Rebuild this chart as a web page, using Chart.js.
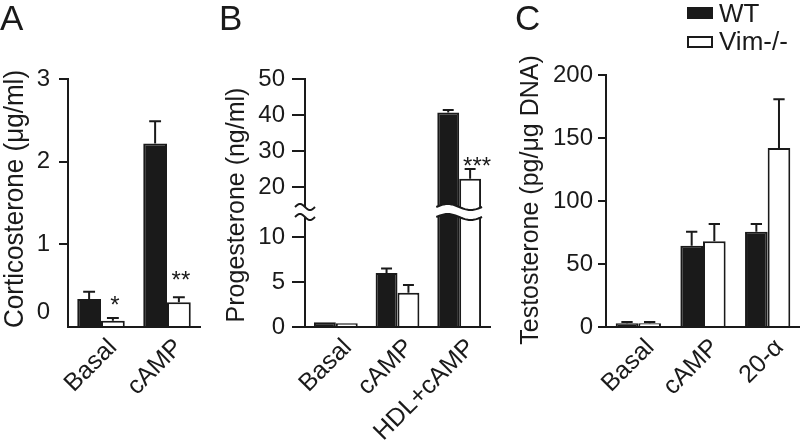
<!DOCTYPE html>
<html>
<head>
<meta charset="utf-8">
<script src="https://cdn.jsdelivr.net/npm/chart.js@4.4.1/dist/chart.umd.min.js"></script>
<style>
  body { margin: 0; background: #fff; width: 800px; height: 444px; overflow: hidden; position: relative;
         font-family: "Liberation Sans", Arial, sans-serif; color: #1a1a1a; }
  canvas { position: absolute; top: 0; }
  .letter { position: absolute; top: 0; font-size: 35px; line-height: 1; }
  .box { position: absolute; left: 687px; width: 26px; height: 12px; box-sizing: border-box; border: 2px solid #1a1a1a; }
  .key { position: absolute; left: 719px; font-size: 26px; line-height: 1; }
</style>
</head>
<body>
<canvas id="chartA" width="210" height="444" style="left:0px"></canvas>
<canvas id="chartBtop" width="280" height="444" style="left:220px"></canvas>
<canvas id="chartBbot" width="280" height="444" style="left:220px"></canvas>
<canvas id="chartC" width="285" height="444" style="left:515px"></canvas>

<div class="letter" style="left:0px">A</div>
<div class="letter" style="left:219px">B</div>
<div class="letter" style="left:515px">C</div>

<div class="box" style="top:7px; background:#1a1a1a"></div>
<div class="key" style="top:0px">WT</div>
<div class="box" style="top:36px; background:#fff"></div>
<div class="key" style="top:28px">Vim-/-</div>

<script>
// ---- data ----
const catsA = ['Basal', 'cAMP'];
const wtA = [0.34, 2.22];
const wtErrA = [0.085, 0.27];
const vimA = [0.075, 0.30];
const vimErrA = [0.035, 0.06];
const starsA = ['*', '**'];
const ticksA = [0, 1, 2, 3];

const catsB = ['Basal', 'cAMP', 'HDL+cAMP'];
const wtB = [0.52, 6.0, 40.7];
const wtErrB = [0, 0.5, 0.7];
const vimB = [0.41, 3.8, 22.3];
const vimErrB = [0, 0.87, 2.7];
const starsB = ['', '', '***'];
const ticksBtop = [20, 30, 40, 50];
const ticksBbot = [0, 5, 10];

const catsC = ['Basal', 'cAMP', '20-α'];
const wtC = [3, 64.5, 75.5];
const wtErrC = [1, 11, 6.3];
const vimC = [3, 68, 142];
const vimErrC = [1, 13.7, 38.7];
const ticksC = [0, 50, 100, 150, 200];

const INK = '#1a1a1a';
const FONT = '"Liberation Sans", Arial, sans-serif';
Chart.defaults.font.family = FONT;
Chart.defaults.color = INK;

// error whiskers (upper only) + significance stars
const errBars = {
  id: 'errBars',
  afterDatasetsDraw(chart, args, opts) {
    const {ctx, chartArea: a} = chart;
    const y = chart.scales.y;
    ctx.save();
    ctx.beginPath();
    ctx.rect(a.left, a.top, a.right - a.left, a.bottom - a.top);
    ctx.clip();
    ctx.strokeStyle = INK;
    ctx.lineWidth = 2;
    chart.data.datasets.forEach((ds, di) => {
      chart.getDatasetMeta(di).data.forEach((bar, i) => {
        const e = ds.err[i];
        if (!e) return;
        const top = y.getPixelForValue(ds.data[i] + e);
        const half = bar.width / 4;
        ctx.beginPath();
        ctx.moveTo(bar.x, bar.y);
        ctx.lineTo(bar.x, top);
        ctx.moveTo(bar.x - half, top);
        ctx.lineTo(bar.x + half, top);
        ctx.stroke();
      });
    });
    ctx.restore();

    if (!opts.stars) return;
    const ds = chart.data.datasets[1];
    ctx.save();
    ctx.font = '24px ' + FONT;
    ctx.fillStyle = INK;
    ctx.textAlign = 'center';
    ctx.textBaseline = 'alphabetic';
    chart.getDatasetMeta(1).data.forEach((bar, i) => {
      if (!opts.stars[i]) return;
      const top = y.getPixelForValue(ds.data[i] + ds.err[i]);
      if (top < a.top || top > a.bottom) return;
      ctx.fillText(opts.stars[i], bar.x + opts.dx, top + opts.dy[i]);
    });
    ctx.restore();
  }
};

// rotated y title
const yTitle = {
  id: 'yTitle',
  afterDraw(chart, args, o) {
    if (!o.text) return;
    const ctx = chart.ctx;
    ctx.save();
    ctx.translate(o.x, o.y);
    ctx.rotate(-Math.PI / 2);
    ctx.scale(o.squeeze || 1, 1);
    ctx.font = o.size + 'px ' + FONT;
    ctx.fillStyle = INK;
    ctx.textAlign = 'center';
    ctx.textBaseline = 'alphabetic';
    ctx.fillText(o.text, 0, 0);
    ctx.restore();
  }
};

// the "0" label of panel A sits a bit above its tick
const zeroLabel = {
  id: 'zeroLabel',
  afterDraw(chart, args, o) {
    const ctx = chart.ctx, y = chart.scales.y;
    ctx.save();
    ctx.font = '24px ' + FONT;
    ctx.fillStyle = INK;
    ctx.textAlign = 'right';
    ctx.textBaseline = 'middle';
    ctx.fillText('0', y.right - o.off, y.getPixelForValue(0) + o.dy);
    ctx.restore();
  }
};

// broken axis marks for panel B (drawn on the lower chart, at its top edge)
const axisBreak = {
  id: 'axisBreak',
  afterDraw(chart, args, o) {
    const {ctx, chartArea: a} = chart;
    const seam = a.top, g = o.gap / 2, amp = o.amp;
    const yUp = (x0, x1, x) => seam - g - amp * Math.sin(2 * Math.PI * (x - x0) / (x1 - x0));
    const yLo = (x0, x1, x) => seam + g - amp * Math.sin(2 * Math.PI * (x - x0) / (x1 - x0));
    const band = (x0, x1) => {
      const n = 24;
      ctx.beginPath();
      for (let k = 0; k <= n; k++) { const x = x0 + (x1 - x0) * k / n; ctx.lineTo(x, yUp(x0, x1, x)); }
      for (let k = n; k >= 0; k--) { const x = x0 + (x1 - x0) * k / n; ctx.lineTo(x, yLo(x0, x1, x)); }
      ctx.closePath();
      ctx.fillStyle = '#fff';
      ctx.fill();
      ctx.strokeStyle = INK;
      ctx.lineWidth = 2;
      [yUp, yLo].forEach(f => {
        ctx.beginPath();
        for (let k = 0; k <= n; k++) { const x = x0 + (x1 - x0) * k / n; ctx.lineTo(x, f(x0, x1, x)); }
        ctx.stroke();
      });
    };
    ctx.save();
    const ax = chart.scales.y.right;
    band(ax - 10, ax + 10);
    const b0 = chart.getDatasetMeta(0).data[o.index];
    const b1 = chart.getDatasetMeta(1).data[o.index];
    band(b0.x - b0.width / 2 - 1, b1.x + b1.width / 2 + 1);
    ctx.restore();
  }
};

function makeChart(id, p) {
  return new Chart(document.getElementById(id), {
    type: 'bar',
    data: {
      labels: p.cats,
      datasets: [
        { label: 'WT', data: p.wt, err: p.wtErr, backgroundColor: INK, borderColor: INK, borderWidth: 2 },
        { label: 'Vim-/-', data: p.vim, err: p.vimErr, backgroundColor: '#fff', borderColor: INK, borderWidth: 2 }
      ]
    },
    options: {
      responsive: false,
      animation: false,
      devicePixelRatio: 1,
      layout: { padding: { left: 0, right: p.padR, top: p.top, bottom: p.padB } },
      datasets: { bar: { barPercentage: 1, categoryPercentage: p.catPct } },
      plugins: {
        legend: { display: false },
        tooltip: { enabled: false },
        errBars: { stars: p.stars, dx: p.starDx || 0, dy: p.starDy || [] },
        yTitle: p.title || {},
        zeroLabel: p.zero || {},
        axisBreak: p.brk || {}
      },
      scales: {
        x: {
          display: p.showX,
          offset: true,
          grid: { display: false, drawTicks: false },
          border: { display: true, color: INK, width: 2 },
          ticks: { autoSkip: false, maxRotation: 45, minRotation: 45, padding: 6, labelOffset: 12,
                   font: { size: 25 }, color: INK },
          afterFit: s => { if (p.showX) s.height = 444 - 327; }
        },
        y: {
          min: p.min, max: p.max,
          grid: { display: true, drawOnChartArea: false, drawTicks: true, tickLength: p.tl, lineWidth: 2,
                  color: c => (p.hideZeroTick && c.tick && c.tick.value === 0) ? 'rgba(0,0,0,0)' : INK },
          border: { display: true, color: INK, width: 2 },
          ticks: { padding: p.tp, font: { size: 24 }, color: INK,
                   callback: v => (p.hideZeroTick && v === 0) ? '' : v },
          afterBuildTicks: s => { s.ticks = p.ticks.map(v => ({ value: v })); },
          afterFit: s => { s.width = p.yW; }
        }
      }
    },
    plugins: p.plugins
  });
}

// Panel A
makeChart('chartA', {
  cats: catsA, wt: wtA, wtErr: wtErrA, vim: vimA, vimErr: vimErrA,
  stars: starsA, starDx: 2, starDy: [-5, -9],
  min: 0, max: 3, ticks: ticksA, hideZeroTick: true,
  yW: 68, tl: 9, tp: 9, top: 79, padR: 10, padB: 0, showX: true, catPct: 0.72,
  title: { text: 'Corticosterone (μg/ml)', x: 23, y: 199, size: 28, squeeze: 0.93 },
  zero: { off: 18, dy: -15 },
  plugins: [errBars, yTitle, zeroLabel]
});

// Panel B, upper segment (20-50)
makeChart('chartBtop', {
  cats: catsB, wt: wtB, wtErr: wtErrB, vim: vimB, vimErr: vimErrB,
  stars: starsB, starDx: 7, starDy: [0, 0, 5],
  min: 13.06, max: 50, ticks: ticksBtop,
  yW: 85, tl: 13, tp: 7, top: 79, padR: 10, padB: 444 - 212, showX: false, catPct: 0.71,
  plugins: [errBars]
});

// Panel B, lower segment (0-10)
makeChart('chartBbot', {
  cats: catsB, wt: wtB, wtErr: wtErrB, vim: vimB, vimErr: vimErrB,
  min: 0, max: 12.78, ticks: ticksBbot,
  yW: 85, tl: 13, tp: 7, top: 212, padR: 10, padB: 0, showX: true, catPct: 0.71,
  title: { text: 'Progesterone (ng/ml)', x: 24, y: 205, size: 25 },
  brk: { gap: 10, amp: 3, index: 2 },
  plugins: [errBars, yTitle, axisBreak]
});

// Panel C
makeChart('chartC', {
  cats: catsC, wt: wtC, wtErr: wtErrC, vim: vimC, vimErr: vimErrC,
  min: 0, max: 200, ticks: ticksC,
  yW: 91, tl: 8, tp: 5, top: 75, padR: 0, padB: 0, showX: true, catPct: 0.70,
  title: { text: 'Testosterone (pg/μg DNA)', x: 22.5, y: 200, size: 25 },
  plugins: [errBars, yTitle]
});
</script>
</body>
</html>
